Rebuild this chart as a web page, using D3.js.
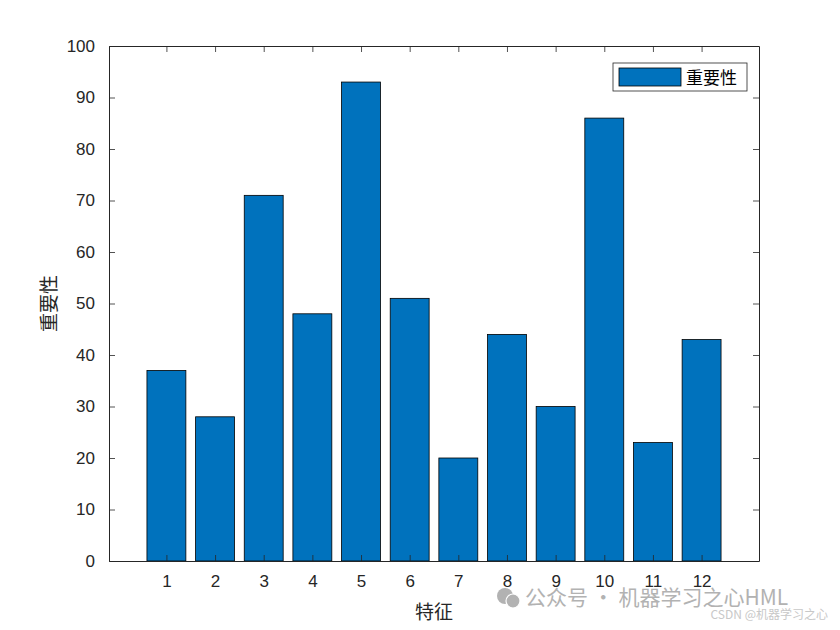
<!DOCTYPE html>
<html>
<head>
<meta charset="utf-8">
<script src="https://cdn.jsdelivr.net/npm/d3@7"></script>
<style>
body { margin: 0; background: #fff; }
svg text { font-family: "Liberation Sans", Arial, sans-serif; }
</style>
</head>
<body>
<script>
// chart data
var features = [1, 2, 3, 4, 5, 6, 7, 8, 9, 10, 11, 12];
var importance = [37, 28, 71, 48, 93, 51, 20, 44, 30, 86, 23, 43];
var yTicks = [0, 10, 20, 30, 40, 50, 60, 70, 80, 90, 100];
var seriesName = "重要性";
var xTitle = "特征";
var yTitle = "重要性";

var W = 840, H = 630;
var margin = {left: 109, right: 81, top: 46, bottom: 69};
var iw = W - margin.left - margin.right;
var ih = H - margin.top - margin.bottom;

var svg = d3.select("body").append("svg").attr("width", W).attr("height", H);
var g = svg.append("g").attr("transform", "translate(" + margin.left + "," + margin.top + ")");

var x = d3.scaleLinear().domain([-0.18, 13.18]).range([0, iw]);
var y = d3.scaleLinear().domain([0, 100]).range([ih, 0]);
var barW = x(0.8) - x(0);

g.selectAll("rect.bar")
    .data(importance)
    .enter()
    .append("rect")
    .attr("class", "bar")
    .attr("x", function(d, i) { return x(features[i]) - barW / 2; })
    .attr("y", function(d) { return y(d); })
    .attr("width", barW)
    .attr("height", function(d) { return y(0) - y(d); })
    .style("fill", "#0072BD")
    .style("stroke", "#000")
    .style("stroke-width", 0.8);

// axes, MATLAB style: ticks inward, on all four sides
var tickCol = "#262626";
var axBottom = g.append("g").attr("transform", "translate(0," + ih + ")")
    .call(d3.axisBottom(x).tickValues(features).tickSizeInner(-6).tickSizeOuter(0).tickPadding(14));
var axTop = g.append("g")
    .call(d3.axisTop(x).tickValues(features).tickSizeInner(-6).tickSizeOuter(0).tickFormat(""));
var axLeft = g.append("g")
    .call(d3.axisLeft(y).tickValues(yTicks).tickSizeInner(-6).tickSizeOuter(0).tickPadding(14));
var axRight = g.append("g").attr("transform", "translate(" + iw + ",0)")
    .call(d3.axisRight(y).tickValues(yTicks).tickSizeInner(-6).tickSizeOuter(0).tickFormat(""));

[axBottom, axTop, axLeft, axRight].forEach(function(a) {
    a.select(".domain").attr("stroke", tickCol).attr("stroke-width", 1);
    a.selectAll(".tick line").attr("stroke", tickCol).attr("stroke-width", 0.8);
    a.selectAll("text").attr("fill", tickCol).style("font-size", "17px");
});

// axis titles
svg.append("text")
    .attr("x", margin.left + iw / 2)
    .attr("y", 619)
    .attr("text-anchor", "middle")
    .style("font-family", "'Noto Sans CJK SC', sans-serif")
    .style("font-size", "19px")
    .attr("fill", tickCol)
    .text(xTitle);

svg.append("text")
    .attr("transform", "translate(56," + (margin.top + ih / 2) + ") rotate(-90)")
    .attr("text-anchor", "middle")
    .style("font-family", "'Noto Sans CJK SC', sans-serif")
    .style("font-size", "19px")
    .attr("fill", tickCol)
    .text(yTitle);

// legend
var lg = svg.append("g").attr("transform", "translate(613,63)");
lg.append("rect").attr("width", 134).attr("height", 28)
    .style("fill", "#fff").style("stroke", tickCol).style("stroke-width", 0.8);
lg.append("rect").attr("x", 6).attr("y", 5).attr("width", 62).attr("height", 18)
    .style("fill", "#0072BD").style("stroke", "#000").style("stroke-width", 0.8);
lg.append("text").attr("x", 73).attr("y", 21)
    .style("font-family", "'Noto Sans CJK SC', sans-serif")
    .style("font-size", "17px")
    .attr("fill", "#000")
    .text(seriesName);

// watermark
var wm = svg.append("g").attr("opacity", 0.75);
wm.append("circle").attr("cx", 505).attr("cy", 596).attr("r", 8).style("fill", "#999");
wm.append("circle").attr("cx", 513).attr("cy", 601).attr("r", 7).style("fill", "#999").style("stroke", "#fff").style("stroke-width", 1.2);
wm.append("text").attr("x", 525).attr("y", 605)
    .style("font-family", "'Noto Sans CJK SC', sans-serif")
    .style("font-size", "21px")
    .attr("fill", "#999")
    .text("公众号 · 机器学习之心HML");
svg.append("text").attr("x", 828).attr("y", 619)
    .attr("text-anchor", "end")
    .style("font-family", "'Noto Sans CJK SC', sans-serif")
    .style("font-size", "12px")
    .attr("fill", "#c8c8c8")
    .text("CSDN @机器学习之心");
</script>
</body>
</html>
